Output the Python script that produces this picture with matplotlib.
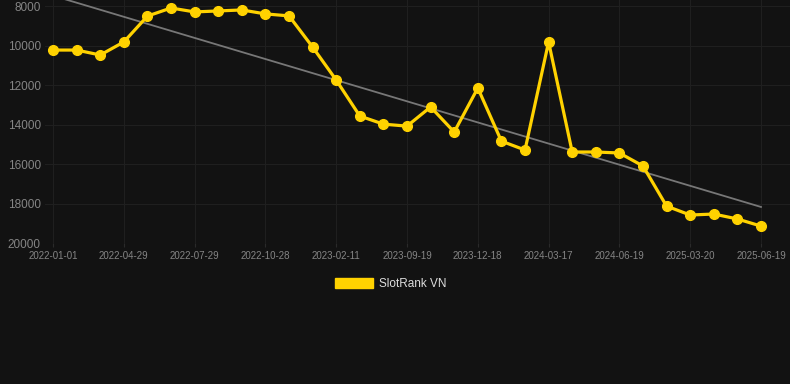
import matplotlib.pyplot as plt
import matplotlib.patches as mpatches
import numpy as np

plt.rcParams['font.family'] = ['Liberation Sans', 'DejaVu Sans']

dates = ["2022-01-01", "2022-02-08", "2022-03-19", "2022-04-29", "2022-05-30", "2022-06-29",
         "2022-07-29", "2022-08-28", "2022-09-27", "2022-10-28", "2022-11-27", "2022-12-27",
         "2023-02-11", "2023-04-12", "2023-06-15", "2023-09-19", "2023-10-19", "2023-11-18",
         "2023-12-18", "2024-01-17", "2024-02-16", "2024-03-17", "2024-04-17", "2024-05-18",
         "2024-06-19", "2024-09-19", "2024-12-19", "2025-03-20", "2025-04-20", "2025-05-20",
         "2025-06-19"]
ranks = [10230, 10230, 10480, 9820, 8510, 8100, 8300, 8250, 8200, 8400, 8500, 10080,
         11750, 13570, 13980, 14080, 13110, 14380, 12150, 14840, 15290, 9820, 15390,
         15390, 15440, 16100, 18130, 18580, 18530, 18780, 19140]
yticks = [8000, 10000, 12000, 14000, 16000, 18000, 20000]

bg = "#121212"
yellow = "#FFD200"

fig = plt.figure(figsize=(7.9, 3.84), dpi=100, facecolor=bg)
ax = fig.add_axes([0.057, 0.367, 0.943, 0.633], facecolor=bg)

x = np.arange(len(ranks))
ax.plot(x, ranks, color=yellow, linewidth=2.3, marker="o", markersize=7, zorder=3)

# trend line
k, b = np.polyfit(x, ranks, 1)
ax.plot(x, k * x + b, color="#777777", linewidth=1.3, zorder=2)

ax.set_ylim(20000, 7696)
ax.set_xlim(-0.34, 31.23)
ax.set_yticks(yticks)
ax.set_yticklabels([str(v) for v in yticks])
ax.set_xticks(x[::3])
ax.set_xticklabels(dates[::3])

ax.grid(True, color="#1f1f1f", linewidth=0.8)
for s in ax.spines.values():
    s.set_visible(False)
ax.tick_params(axis="y", length=0, pad=3, labelsize=8.5, labelcolor="#858585")
ax.tick_params(axis="x", length=3, color="#2a2a2a", pad=3, labelsize=7, labelcolor="#858585")

handle = mpatches.Patch(facecolor=yellow, edgecolor=yellow, label="SlotRank VN")
leg = fig.legend(handles=[handle], loc="center", bbox_to_anchor=(0.495, 0.26), frameon=False,
                 handlelength=3.2, handleheight=0.9, handletextpad=0.5, fontsize=8.5)
for t in leg.get_texts():
    t.set_color("#dddddd")

plt.savefig("out.png", facecolor=bg)
